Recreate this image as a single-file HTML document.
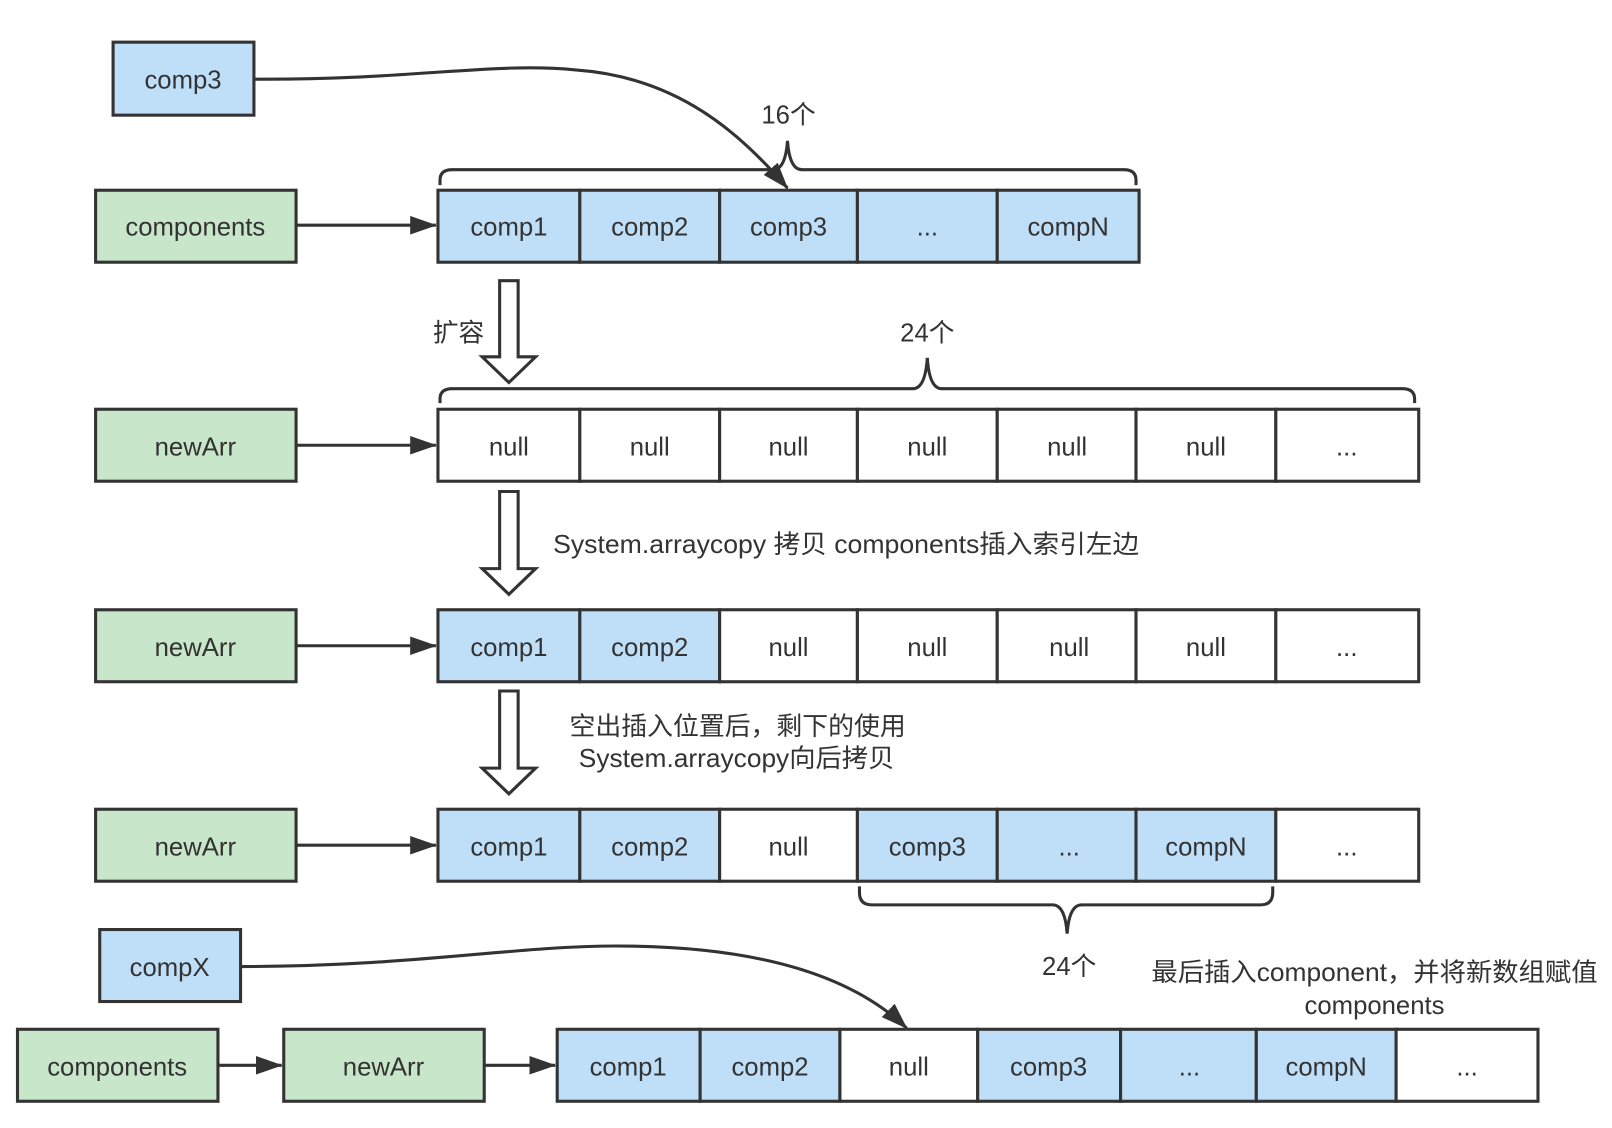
<!DOCTYPE html>
<html><head><meta charset="utf-8"><style>
html,body{margin:0;padding:0;background:#fff;}
svg{display:block;}
text{font-family:"Liberation Sans","Noto Sans CJK SC",sans-serif;font-size:25px;fill:#333;}
</style></head><body>
<svg width="1612" height="1128" viewBox="0 0 1568 1097" preserveAspectRatio="none" xmlns="http://www.w3.org/2000/svg">
<defs>
<marker id="ah2" markerWidth="26" markerHeight="18" refX="25" refY="9" orient="auto" markerUnits="userSpaceOnUse" viewBox="0 0 26 18">
<path d="M0,0 L26,9 L0,18 z" fill="#333"/>
</marker>
</defs>
<g stroke="#333" stroke-width="3">
<rect x="110" y="41" width="137" height="71" fill="#bfdff9"/>
<rect x="93" y="185" width="195" height="70" fill="#c8e6c9"/>
<rect x="93" y="398" width="195" height="70" fill="#c8e6c9"/>
<rect x="93" y="593" width="195" height="70" fill="#c8e6c9"/>
<rect x="93" y="787" width="195" height="70" fill="#c8e6c9"/>
<rect x="97" y="904" width="137" height="70" fill="#bfdff9"/>
<rect x="17" y="1001" width="195" height="70" fill="#c8e6c9"/>
<rect x="276" y="1001" width="195" height="70" fill="#c8e6c9"/>

<rect x="426" y="185" width="138" height="70" fill="#bfdff9"/>
<rect x="564" y="185" width="136" height="70" fill="#bfdff9"/>
<rect x="700" y="185" width="134" height="70" fill="#bfdff9"/>
<rect x="834" y="185" width="136" height="70" fill="#bfdff9"/>
<rect x="970" y="185" width="138" height="70" fill="#bfdff9"/>

<rect x="426" y="398" width="138" height="70" fill="#fff"/>
<rect x="564" y="398" width="136" height="70" fill="#fff"/>
<rect x="700" y="398" width="134" height="70" fill="#fff"/>
<rect x="834" y="398" width="136" height="70" fill="#fff"/>
<rect x="970" y="398" width="135" height="70" fill="#fff"/>
<rect x="1105" y="398" width="136" height="70" fill="#fff"/>
<rect x="1241" y="398" width="139" height="70" fill="#fff"/>

<rect x="426" y="593" width="138" height="70" fill="#bfdff9"/>
<rect x="564" y="593" width="136" height="70" fill="#bfdff9"/>
<rect x="700" y="593" width="134" height="70" fill="#fff"/>
<rect x="834" y="593" width="136" height="70" fill="#fff"/>
<rect x="970" y="593" width="135" height="70" fill="#fff"/>
<rect x="1105" y="593" width="136" height="70" fill="#fff"/>
<rect x="1241" y="593" width="139" height="70" fill="#fff"/>

<rect x="426" y="787" width="138" height="70" fill="#bfdff9"/>
<rect x="564" y="787" width="136" height="70" fill="#bfdff9"/>
<rect x="700" y="787" width="134" height="70" fill="#fff"/>
<rect x="834" y="787" width="136" height="70" fill="#bfdff9"/>
<rect x="970" y="787" width="135" height="70" fill="#bfdff9"/>
<rect x="1105" y="787" width="136" height="70" fill="#bfdff9"/>
<rect x="1241" y="787" width="139" height="70" fill="#fff"/>

<rect x="542" y="1001" width="139" height="70" fill="#bfdff9"/>
<rect x="681" y="1001" width="136" height="70" fill="#bfdff9"/>
<rect x="817" y="1001" width="134" height="70" fill="#fff"/>
<rect x="951" y="1001" width="139" height="70" fill="#bfdff9"/>
<rect x="1090" y="1001" width="132" height="70" fill="#bfdff9"/>
<rect x="1222" y="1001" width="136" height="70" fill="#bfdff9"/>
<rect x="1358" y="1001" width="138" height="70" fill="#fff"/>
</g>

<g stroke="#333" stroke-width="3" fill="none">
<line x1="288" y1="219" x2="424" y2="219" marker-end="url(#ah2)"/>
<line x1="288" y1="433" x2="424" y2="433" marker-end="url(#ah2)"/>
<line x1="288" y1="628" x2="424" y2="628" marker-end="url(#ah2)"/>
<line x1="288" y1="822" x2="424" y2="822" marker-end="url(#ah2)"/>
<line x1="212" y1="1036" x2="274" y2="1036" marker-end="url(#ah2)"/>
<line x1="471" y1="1036" x2="540" y2="1036" marker-end="url(#ah2)"/>
<path d="M247,77 C400,78 480,60 560,68 C660,75 720,130 766,183" marker-end="url(#ah2)"/>
<path d="M234,940 C400,940 500,920 600,920 C740,920 830,950 882,1000" marker-end="url(#ah2)"/>
<path d="M428,180 L428,175 Q428,165 440,165 L752,165 Q764,165 766,137 Q768,165 780,165 L1093,165 Q1105,165 1105,175 L1105,180"/>
<path d="M428,392 L428,388 Q428,378 440,378 L888,378 Q900,378 902,348 Q904,378 916,378 L1364,378 Q1376,378 1376,388 L1376,392"/>
<path d="M836,862 L836,868 Q836,880 848,880 L1024,880 Q1036,880 1038,908 Q1040,880 1052,880 L1226,880 Q1238,880 1238,868 L1238,862"/>
<path d="M486,273 L504,273 L504,347 L521,347 L495,372 L469,347 L486,347 Z" fill="#fff"/>
<path d="M486,478 L504,478 L504,553 L521,553 L495,578 L469,553 L486,553 Z" fill="#fff"/>
<path d="M486,672 L504,672 L504,747 L521,747 L495,772 L469,747 L486,747 Z" fill="#fff"/>
</g>

<g text-anchor="middle">
<text x="178" y="86">comp3</text>
<text x="190" y="229">components</text>
<text x="190" y="443">newArr</text>
<text x="190" y="638">newArr</text>
<text x="190" y="832">newArr</text>
<text x="165" y="949">compX</text>
<text x="114" y="1046">components</text>
<text x="373" y="1046">newArr</text>

<text x="495" y="229">comp1</text><text x="632" y="229">comp2</text><text x="767" y="229">comp3</text><text x="902" y="229">...</text><text x="1039" y="229">compN</text>

<text x="495" y="443">null</text><text x="632" y="443">null</text><text x="767" y="443">null</text><text x="902" y="443">null</text><text x="1038" y="443">null</text><text x="1173" y="443">null</text><text x="1310" y="443">...</text>

<text x="495" y="638">comp1</text><text x="632" y="638">comp2</text><text x="767" y="638">null</text><text x="902" y="638">null</text><text x="1040" y="638">null</text><text x="1173" y="638">null</text><text x="1310" y="638">...</text>

<text x="495" y="832">comp1</text><text x="632" y="832">comp2</text><text x="767" y="832">null</text><text x="902" y="832">comp3</text><text x="1040" y="832">...</text><text x="1173" y="832">compN</text><text x="1310" y="832">...</text>

<text x="611" y="1046">comp1</text><text x="749" y="1046">comp2</text><text x="884" y="1046">null</text><text x="1020" y="1046">comp3</text><text x="1157" y="1046">...</text><text x="1290" y="1046">compN</text><text x="1427" y="1046">...</text>

<text x="767" y="120">16个</text>
<text x="446" y="332">扩容</text>
<text x="902" y="332">24个</text>
<text x="1040" y="948">24个</text>
<text x="1337" y="986">components</text>
</g>
<text x="1120" y="954" textLength="434" lengthAdjust="spacingAndGlyphs">最后插入component，并将新数组赋值</text>
<text x="538" y="538" textLength="570" lengthAdjust="spacingAndGlyphs">System.arraycopy 拷贝 components插入索引左边</text>
<text x="554" y="715" textLength="327" lengthAdjust="spacingAndGlyphs">空出插入位置后，剩下的使用</text>
<text x="563" y="746" textLength="307" lengthAdjust="spacingAndGlyphs">System.arraycopy向后拷贝</text>
</svg>
</body></html>
